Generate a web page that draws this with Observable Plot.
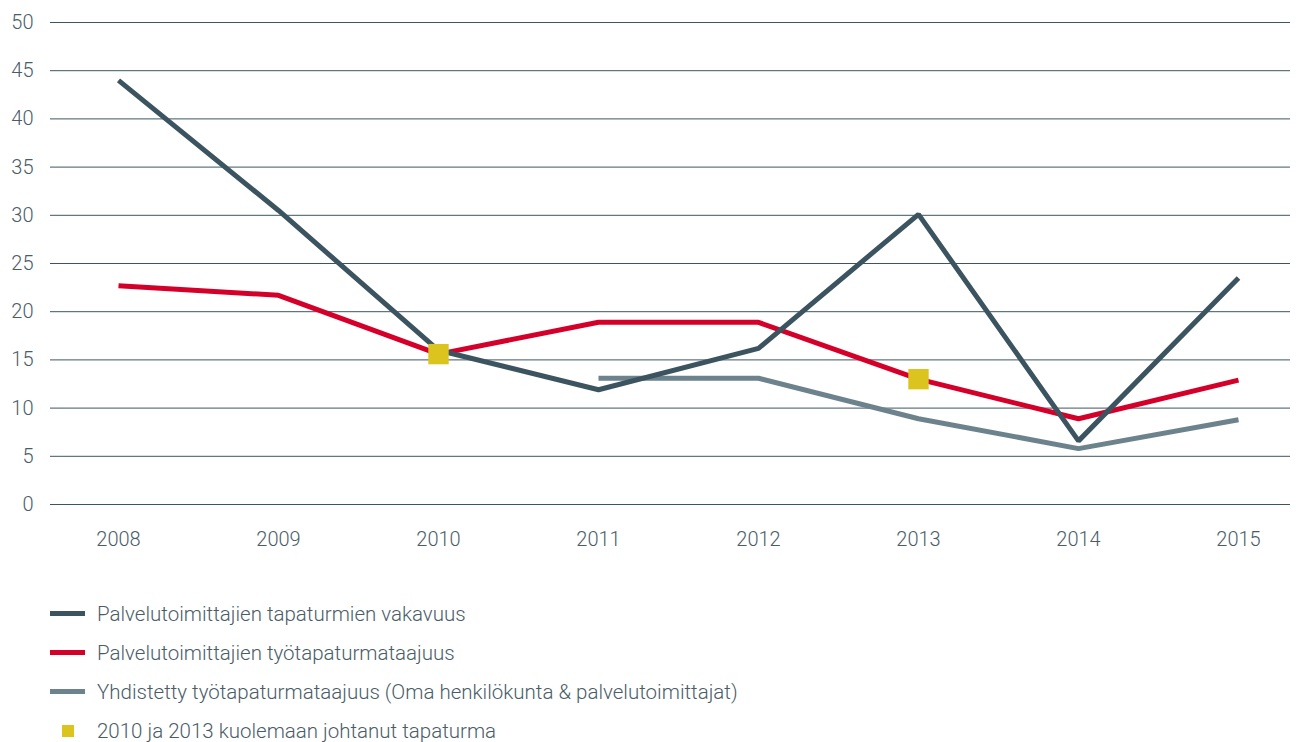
<!DOCTYPE html>
<html>
<head>
<meta charset="utf-8">
<script src="https://cdn.jsdelivr.net/npm/d3@7"></script>
<script src="https://cdn.jsdelivr.net/npm/@observablehq/plot@0.6"></script>
<style>
  html, body { margin: 0; padding: 0; background: #fff; }
  body { width: 1296px; height: 742px; overflow: hidden; font-family: Roboto, "Open Sans", sans-serif; }
  #legend { position: relative; margin-left: 50px; margin-top: 34px; }
  .item { display: flex; align-items: center; height: 39px; font-size: 20.5px; font-weight: 300; color: #4a5d67; }
  .sw { width: 35px; margin-right: 12px; display: flex; justify-content: center; align-items: center; }
</style>
</head>
<body>
<div id="chart"></div>
<div id="legend"></div>
<script>
const years = [2008, 2009, 2010, 2011, 2012, 2013, 2014, 2015];
const vakavuus = [44, 30.5, 16, 11.9, 16.2, 30.1, 6.6, 23.5];
const taajuus = [22.7, 21.7, 15.6, 18.9, 18.9, 13.0, 8.9, 12.9];
const yhdYears = [2011, 2012, 2013, 2014, 2015];
const yhdistetty = [13.1, 13.1, 8.9, 5.8, 8.8];
const fatalYears = [2010, 2013];
const fatalValues = [15.6, 13.0];
const yTicks = [0, 5, 10, 15, 20, 25, 30, 35, 40, 45, 50];
const seriesNames = [
  "Palvelutoimittajien tapaturmien vakavuus",
  "Palvelutoimittajien työtapaturmataajuus",
  "Yhdistetty työtapaturmataajuus (Oma henkilökunta & palvelutoimittajat)",
  "2010 ja 2013 kuolemaan johtanut tapaturma"
];
const colors = ["#3c5460", "#d50029", "#6c838e", "#dcc41f"];

const d1 = years.map((y, i) => ({year: y, value: vakavuus[i]}));
const d2 = years.map((y, i) => ({year: y, value: taajuus[i]}));
const d3s = yhdYears.map((y, i) => ({year: y, value: yhdistetty[i]}));
const df = fatalYears.map((y, i) => ({year: y, value: fatalValues[i]}));

const plot = Plot.plot({
  width: 1296,
  height: 560,
  marginLeft: 117,
  marginRight: 58,
  marginTop: 22,
  marginBottom: 56,
  style: {fontFamily: "Roboto, sans-serif", fontSize: "20px", fontWeight: 300, color: "#4a5d67", background: "#fff"},
  x: {type: "point", domain: years, padding: 0},
  y: {domain: [0, 50]},
  marks: [
    Plot.ruleY(yTicks, {stroke: "#3d5560", strokeWidth: 1, insetLeft: -67, insetRight: -52}),
    Plot.axisY({ticks: yTicks, tickSize: 0, tickPadding: 84, label: null, fill: "#4a5d67", fontSize: 20}),
    Plot.axisX({tickSize: 0, tickPadding: 27, label: null, tickFormat: d => String(d), fill: "#4a5d67", fontSize: 20}),
    Plot.line(d3s, {x: "year", y: "value", stroke: colors[2], strokeWidth: 5, strokeLinejoin: "miter", strokeLinecap: "butt"}),
    Plot.line(d2, {x: "year", y: "value", stroke: colors[1], strokeWidth: 5, strokeLinejoin: "miter", strokeLinecap: "butt"}),
    Plot.line(d1, {x: "year", y: "value", stroke: colors[0], strokeWidth: 5, strokeLinejoin: "miter", strokeLinecap: "butt"}),
    Plot.dot(df, {x: "year", y: "value", symbol: "square", r: 11.5, fill: colors[3], stroke: "none"})
  ]
});
document.getElementById("chart").appendChild(plot);

const legend = document.getElementById("legend");
seriesNames.forEach((name, i) => {
  const item = document.createElement("div");
  item.className = "item";
  const sw = document.createElement("div");
  sw.className = "sw";
  const inner = document.createElement("div");
  if (i < 3) {
    inner.style.width = "35px";
    inner.style.height = "5px";
  } else {
    inner.style.width = "12px";
    inner.style.height = "12px";
  }
  inner.style.background = colors[i];
  sw.appendChild(inner);
  const t = document.createElement("span");
  t.textContent = name;
  item.appendChild(sw);
  item.appendChild(t);
  legend.appendChild(item);
});
</script>
</body>
</html>
